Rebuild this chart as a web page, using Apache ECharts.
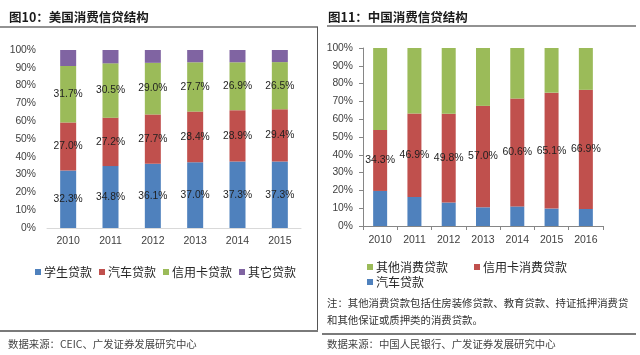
<!DOCTYPE html>
<html>
<head>
<meta charset="utf-8">
<script src="https://cdn.jsdelivr.net/npm/echarts@6/dist/echarts.min.js"></script>
<style>
html,body{margin:0;padding:0;background:#fff;}
#c{width:640px;height:355px;}
</style>
</head>
<body>
<div id="c"></div>
<script>
// Figure 10: US consumer credit structure
const years1 = ['2010','2011','2012','2013','2014','2015'];
const usStudent = [32.3,34.8,36.1,37.0,37.3,37.3];
const usAuto = [27.0,27.2,27.7,28.4,28.9,29.4];
const usCard = [31.7,30.5,29.0,27.7,26.9,26.5];
const usOther = [9.0,7.5,7.2,6.9,6.9,6.8];
const usNames = ['学生贷款','汽车贷款','信用卡贷款','其它贷款'];

// Figure 11: China consumer credit structure
const years2 = ['2010','2011','2012','2013','2014','2015','2016'];
const cnAuto = [19.7,16.3,13.2,10.5,11.0,9.8,9.6];
const cnCard = [34.3,46.9,49.8,57.0,60.6,65.1,66.9];
const cnOther = [46.0,36.8,37.0,32.5,28.4,25.1,23.5];
const cnNames = ['其他消费贷款','信用卡消费贷款','汽车贷款'];

const yTicks = [0,10,20,30,40,50,60,70,80,90,100];

const BLUE='#4F81BD', RED='#C0504D', GREEN='#9BBB59', PURPLE='#8064A2';
const NUM_FONT = 'Liberation Sans';
const CJK = '"Noto Sans CJK SC"';

const chart = echarts.init(document.getElementById('c'));
const pct = p => p.value.toFixed(1) + '%';

function lbl(size){
  return {show:true, position:'inside', formatter:pct, color:'#1f1f1f', fontFamily:NUM_FONT, fontSize:size};
}

chart.setOption({
  animation:false,
  grid:[
    {left:47, top:50, width:254, height:178},
    {left:363, top:48, width:240, height:178}
  ],
  xAxis:[
    {gridIndex:0, type:'category', data:years1,
      axisLine:{lineStyle:{color:'#d9d9d9'}}, axisTick:{show:false},
      axisLabel:{color:'#404040', fontFamily:NUM_FONT, fontSize:10.5, margin:8}},
    {gridIndex:1, type:'category', data:years2,
      axisLine:{lineStyle:{color:'#868686'}},
      axisTick:{show:true, length:4, lineStyle:{color:'#868686'}},
      axisLabel:{color:'#404040', fontFamily:NUM_FONT, fontSize:10.5, margin:9}}
  ],
  yAxis:[
    {gridIndex:0, type:'value', min:yTicks[0], max:yTicks[yTicks.length-1], interval:10,
      axisLine:{show:false}, axisTick:{show:false}, splitLine:{show:false},
      axisLabel:{formatter:'{value}%', color:'#404040', fontFamily:NUM_FONT, fontSize:10.3, margin:11}},
    {gridIndex:1, type:'value', min:yTicks[0], max:yTicks[yTicks.length-1], interval:10,
      axisLine:{show:true, lineStyle:{color:'#868686'}},
      axisTick:{show:true, length:4, lineStyle:{color:'#868686'}}, splitLine:{show:false},
      axisLabel:{formatter:'{value}%', color:'#404040', fontFamily:NUM_FONT, fontSize:10.3, margin:10}}
  ],
  legend:[
    {data:usNames, left:30, top:261, itemWidth:6, itemHeight:6, itemGap:7, icon:'rect',
      textStyle:{fontFamily:CJK, fontSize:12, color:'#262626', padding:[0,0,0,-2]}},
    {data:[cnNames[0],cnNames[1]], left:362, top:256, itemWidth:6, itemHeight:6, itemGap:26, icon:'rect',
      textStyle:{fontFamily:CJK, fontSize:12, color:'#262626', padding:[0,0,0,-2]}},
    {data:[{name:cnNames[2], itemStyle:{color:BLUE}}], left:362, top:271, itemWidth:6, itemHeight:6, icon:'rect',
      textStyle:{fontFamily:CJK, fontSize:12, color:'#262626', padding:[0,0,0,-2]}}
  ],
  series:[
    {name:usNames[0], type:'bar', stack:'us', xAxisIndex:0, yAxisIndex:0, data:usStudent, barWidth:16, itemStyle:{color:BLUE}, label:lbl(10.3)},
    {name:usNames[1], type:'bar', stack:'us', xAxisIndex:0, yAxisIndex:0, data:usAuto, barWidth:16, itemStyle:{color:RED}, label:lbl(10.3)},
    {name:usNames[2], type:'bar', stack:'us', xAxisIndex:0, yAxisIndex:0, data:usCard, barWidth:16, itemStyle:{color:GREEN}, label:lbl(10.3)},
    {name:usNames[3], type:'bar', stack:'us', xAxisIndex:0, yAxisIndex:0, data:usOther, barWidth:16, itemStyle:{color:PURPLE}},
    {name:cnNames[2], type:'bar', stack:'cn', xAxisIndex:1, yAxisIndex:1, data:cnAuto, barWidth:14, itemStyle:{color:BLUE}},
    {name:cnNames[1], type:'bar', stack:'cn', xAxisIndex:1, yAxisIndex:1, data:cnCard, barWidth:14, itemStyle:{color:RED}, label:lbl(10.5)},
    {name:cnNames[0], type:'bar', stack:'cn', xAxisIndex:1, yAxisIndex:1, data:cnOther, barWidth:14, itemStyle:{color:GREEN}}
  ],
  graphic:[
    {type:'text', style:{text:'图10：美国消费信贷结构', x:9, y:17, textVerticalAlign:'middle', font:'bold 12.5px "Noto Sans CJK SC"', fill:'#1a1a1a'}},
    {type:'text', style:{text:'图11：中国消费信贷结构', x:328, y:17, textVerticalAlign:'middle', font:'bold 12.5px "Noto Sans CJK SC"', fill:'#1a1a1a'}},
    {type:'line', shape:{x1:0, y1:27, x2:318, y2:27}, style:{stroke:'#6e6e6e', lineWidth:1.5}},
    {type:'line', shape:{x1:327, y1:26, x2:636, y2:26}, style:{stroke:'#6e6e6e', lineWidth:1.5}},
    {type:'line', shape:{x1:317.5, y1:27, x2:317.5, y2:331}, style:{stroke:'#555', lineWidth:1}},
    {type:'line', shape:{x1:0, y1:331, x2:318, y2:331}, style:{stroke:'#7a7a7a', lineWidth:2}},
    {type:'line', shape:{x1:322, y1:334, x2:636, y2:334}, style:{stroke:'#7a7a7a', lineWidth:2}},
    {type:'text', style:{text:'注：其他消费贷款包括住房装修贷款、教育贷款、持证抵押消费贷', x:327, y:303, textVerticalAlign:'middle', font:'10.4px "Noto Sans CJK SC"', fill:'#333'}},
    {type:'text', style:{text:'和其他保证或质押类的消费贷款。', x:327, y:320, textVerticalAlign:'middle', font:'10.4px "Noto Sans CJK SC"', fill:'#333'}},
    {type:'text', style:{text:'数据来源：CEIC、广发证券发展研究中心', x:8, y:344, textVerticalAlign:'middle', font:'10.4px "Noto Sans CJK SC"', fill:'#444'}},
    {type:'text', style:{text:'数据来源：中国人民银行、广发证券发展研究中心', x:327, y:344, textVerticalAlign:'middle', font:'10.4px "Noto Sans CJK SC"', fill:'#444'}}
  ]
});
</script>
</body>
</html>
